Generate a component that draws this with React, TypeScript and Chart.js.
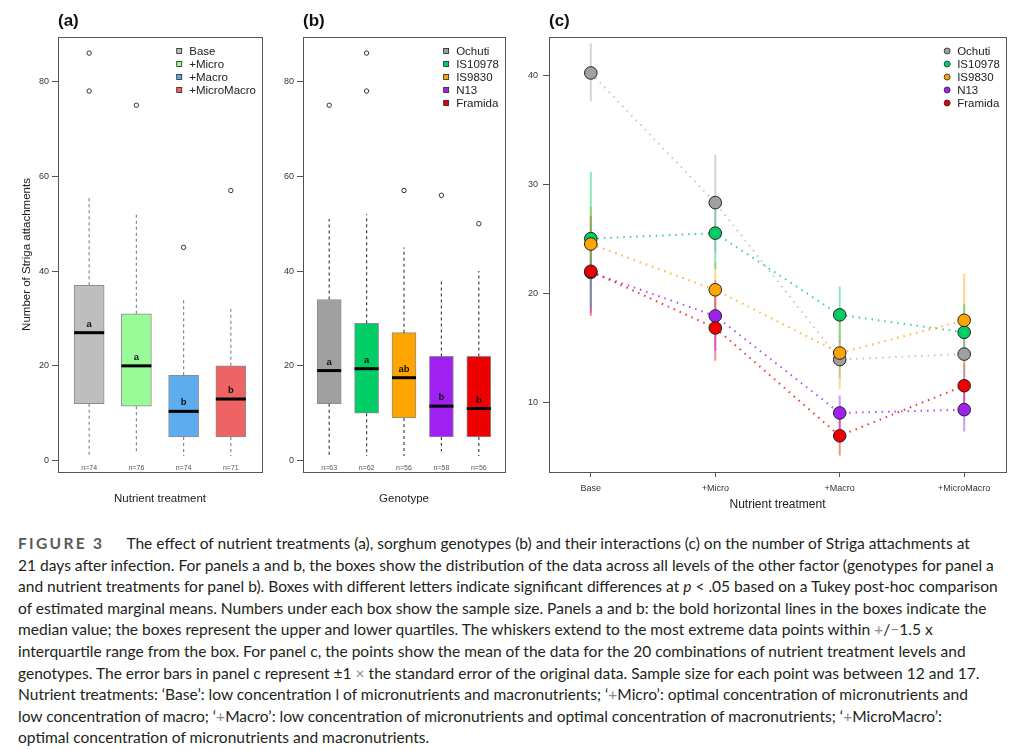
import React, { useEffect, useRef } from 'react';
import { Chart, registerables } from 'chart.js';

Chart.register(...registerables);

const FONT = '"Liberation Sans", Arial, Helvetica, sans-serif';

// ---------- categories ----------
const TREATMENTS = ['Base', '+Micro', '+Macro', '+MicroMacro'];
const GENOTYPES = ['Ochuti', 'IS10978', 'IS9830', 'N13', 'Framida'];

// ---------- panel (a): nutrient treatment boxplots ----------
const A_Q1 = [12, 11.5, 5, 5];
const A_MED = [27, 20, 10.4, 13];
const A_Q3 = [37, 31, 18, 20];
const A_LOW = [1, 2, 1, 1];
const A_HIGH = [56, 52, 34, 32];
const A_OUT = [[86, 78], [75], [45], [57]];
const A_LETTERS = ['a', 'a', 'b', 'b'];
const A_N = [74, 76, 74, 71];
const A_COLORS = ['#BEBEBE', '#98FB98', '#5CACEE', '#EE6363'];

// ---------- panel (b): genotype boxplots ----------
const B_Q1 = [12, 10, 9, 5, 5];
const B_MED = [19, 19.4, 17.5, 11.5, 11];
const B_Q3 = [34, 29, 27, 22, 22];
const B_LOW = [1, 1, 1, 2, 1];
const B_HIGH = [51, 52, 45, 38, 40];
const B_OUT = [[75], [86, 78], [57], [56], [50]];
const B_LETTERS = ['a', 'a', 'ab', 'b', 'b'];
const B_N = [63, 62, 56, 58, 56];
const GENO_COLORS = ['#A0A0A0', '#00CD66', '#FFA500', '#A020F0', '#EE0000'];

const Y_TICKS_AB = [0, 20, 40, 60, 80];
const Y_TICKS_C = [10, 20, 30, 40];

// ---------- panel (c): means and ±1 SE ends ----------
const OCHUTI_MEAN = [40.2, 28.3, 13.9, 14.4];
const OCHUTI_LO = [37.6, 23.7, 12.2, 12.3];
const OCHUTI_HI = [42.9, 32.7, 15.7, 16.1];
const IS10978_MEAN = [25.0, 25.5, 18.0, 16.4];
const IS10978_LO = [18.7, 22.2, 15.4, 13.9];
const IS10978_HI = [31.1, 27.9, 20.6, 19.0];
const IS9830_MEAN = [24.5, 20.3, 14.5, 17.5];
const IS9830_LO = [21.2, 17.8, 11.2, 13.2];
const IS9830_HI = [27.9, 22.8, 17.8, 21.8];
const N13_MEAN = [21.9, 17.9, 9.0, 9.3];
const N13_LO = [18.2, 14.7, 7.4, 7.3];
const N13_HI = [25.6, 21.2, 10.6, 11.3];
const FRAMIDA_MEAN = [22.0, 16.8, 6.9, 11.5];
const FRAMIDA_LO = [17.9, 13.8, 5.1, 9.5];
const FRAMIDA_HI = [27.1, 19.8, 8.7, 13.5];

const C_MEANS = [OCHUTI_MEAN, IS10978_MEAN, IS9830_MEAN, N13_MEAN, FRAMIDA_MEAN];
const C_LOS = [OCHUTI_LO, IS10978_LO, IS9830_LO, N13_LO, FRAMIDA_LO];
const C_HIS = [OCHUTI_HI, IS10978_HI, IS9830_HI, N13_HI, FRAMIDA_HI];

// ---------- helpers ----------
function rgba(hex: string, a: number) {
  const n = parseInt(hex.slice(1), 16);
  return `rgba(${(n >> 16) & 255},${(n >> 8) & 255},${n & 255},${a})`;
}

function framePlugin() {
  return {
    id: 'frame',
    afterDatasetsDraw(chart: any) {
      const { ctx, chartArea: a } = chart;
      ctx.save();
      ctx.strokeStyle = '#555';
      ctx.lineWidth = 1;
      ctx.strokeRect(Math.round(a.left) + 0.5, Math.round(a.top) + 0.5, Math.round(a.right - a.left), Math.round(a.bottom - a.top));
      ctx.restore();
    },
  };
}

function panelLabelPlugin(label: string) {
  return {
    id: 'panelLabel',
    afterDraw(chart: any) {
      const { ctx, chartArea: a } = chart;
      ctx.save();
      ctx.font = `bold 17px ${FONT}`;
      ctx.fillStyle = '#111';
      ctx.textAlign = 'left';
      ctx.textBaseline = 'middle';
      ctx.fillText(label, a.left, 21);
      ctx.restore();
    },
  };
}

function legendPlugin(labels: string[], colors: string[], shape: 'square' | 'circle') {
  return {
    id: 'inLegend',
    afterDraw(chart: any) {
      const { ctx, chartArea: a } = chart;
      ctx.save();
      ctx.font = `11.5px ${FONT}`;
      const maxW = Math.max(...labels.map((l) => ctx.measureText(l).width));
      const tx = a.right - 6 - maxW;
      labels.forEach((l, i) => {
        const y = a.top + 14 + 13 * i;
        const sx = tx - 10;
        ctx.fillStyle = colors[i];
        ctx.strokeStyle = '#222';
        ctx.lineWidth = 0.8;
        if (shape === 'square') {
          ctx.fillRect(sx - 2.5, y - 2.5, 5, 5);
          ctx.strokeRect(sx - 2.5, y - 2.5, 5, 5);
        } else {
          ctx.beginPath();
          ctx.arc(sx, y, 3, 0, Math.PI * 2);
          ctx.fill();
          ctx.stroke();
        }
        ctx.fillStyle = '#222';
        ctx.textAlign = 'left';
        ctx.textBaseline = 'middle';
        ctx.fillText(l, tx, y + 0.5);
      });
      ctx.restore();
    },
  };
}

function boxTextPlugin(med: number[], letters: string[], ns: number[]) {
  return {
    id: 'boxText',
    afterDatasetsDraw(chart: any) {
      const { ctx } = chart;
      const xS = chart.scales.x;
      const yS = chart.scales.y;
      ctx.save();
      ctx.textAlign = 'center';
      ctx.textBaseline = 'middle';
      ctx.font = `bold 9.5px ${FONT}`;
      ctx.fillStyle = '#111';
      letters.forEach((t, i) => {
        ctx.fillText(t, xS.getPixelForValue(i + 1), yS.getPixelForValue(med[i]) - 8.5);
      });
      ctx.font = `7px ${FONT}`;
      ctx.fillStyle = '#555';
      ns.forEach((v, i) => {
        ctx.fillText('n=' + v, xS.getPixelForValue(i + 1), yS.getPixelForValue(0) + 7);
      });
      ctx.restore();
    },
  };
}

type BoxSpec = {
  cats: string[];
  q1: number[];
  med: number[];
  q3: number[];
  low: number[];
  high: number[];
  out: number[][];
  letters: string[];
  ns: number[];
  colors: string[];
  boxPx: number;
  whiskerColor: string;
  label: string;
  xTitle: string;
  yTitle: string | null;
  yWidth: number;
  padRight: number;
};

function boxConfig(p: BoxSpec): any {
  const n = p.cats.length;
  const xs = p.cats.map((_, i) => i + 1);
  const whisk: any[] = [];
  xs.forEach((x, i) => {
    whisk.push({ x, y: p.q3[i] }, { x, y: p.high[i] }, { x, y: null }, { x, y: p.q1[i] }, { x, y: p.low[i] }, { x, y: null });
  });
  const outs: any[] = [];
  p.out.forEach((arr, i) => arr.forEach((v) => outs.push({ x: i + 1, y: v })));
  return {
    type: 'scatter',
    data: {
      datasets: [
        {
          type: 'bar',
          data: xs.map((x, i) => ({ x, y: [p.q1[i], p.q3[i]] })),
          backgroundColor: p.colors,
          borderColor: 'rgba(0,0,0,0.45)',
          borderWidth: 1,
          borderSkipped: false,
          barThickness: p.boxPx,
          order: 4,
        },
        {
          type: 'line',
          data: whisk,
          borderColor: p.whiskerColor,
          borderWidth: 1.2,
          borderDash: [3, 3],
          pointRadius: 0,
          spanGaps: false,
          order: 3,
        },
        {
          type: 'scatter',
          data: outs,
          pointStyle: 'circle',
          pointRadius: 2.2,
          borderColor: '#333',
          backgroundColor: 'rgba(255,255,255,0)',
          borderWidth: 1,
          order: 2,
        },
        {
          type: 'scatter',
          data: xs.map((x, i) => ({ x, y: p.med[i] })),
          pointStyle: 'line',
          pointRadius: p.boxPx / 2,
          borderColor: '#000',
          borderWidth: 3,
          order: 1,
        },
      ],
    },
    options: {
      responsive: false,
      animation: false,
      events: [],
      layout: { padding: { left: 0, top: 37, right: p.padRight, bottom: 0 } },
      plugins: { legend: { display: false }, tooltip: { enabled: false }, title: { display: false } },
      scales: {
        x: {
          type: 'linear',
          min: 0.5 - 0.04 * n,
          max: n + 0.5 + 0.04 * n,
          offset: false,
          grid: { display: false },
          border: { display: false },
          ticks: { display: false },
          title: {
            display: true,
            text: p.xTitle,
            color: '#222',
            font: { family: FONT, size: 11.5 },
            padding: { top: 0, bottom: 14 },
          },
          afterFit: (s: any) => {
            s.height = 48;
          },
        },
        y: {
          type: 'linear',
          min: -2.4,
          max: 89.4,
          beginAtZero: false,
          afterBuildTicks: (s: any) => {
            s.ticks = Y_TICKS_AB.map((v) => ({ value: v }));
          },
          ticks: { font: { family: FONT, size: 9 }, color: '#333', padding: 3 },
          grid: { drawOnChartArea: false, drawTicks: true, tickLength: 6, color: '#555' },
          border: { display: false },
          title: p.yTitle
            ? {
                display: true,
                text: p.yTitle,
                color: '#222',
                font: { family: FONT, size: 11.5 },
                padding: { top: 20, bottom: 0 },
              }
            : { display: false },
          afterFit: (s: any) => {
            s.width = p.yWidth;
          },
        },
      },
    },
    plugins: [framePlugin(), panelLabelPlugin(p.label), legendPlugin(p.cats, p.colors, 'square'), boxTextPlugin(p.med, p.letters, p.ns)],
  };
}

function interactionConfig(): any {
  const xs = TREATMENTS.map((_, i) => i + 1);
  const datasets: any[] = [];
  GENOTYPES.forEach((g, gi) => {
    const pts: any[] = [];
    xs.forEach((x, i) => {
      pts.push({ x, y: C_LOS[gi][i] }, { x, y: C_HIS[gi][i] }, { x, y: null });
    });
    datasets.push({
      type: 'line',
      label: g + ' SE',
      data: pts,
      borderColor: rgba(GENO_COLORS[gi], 0.45),
      borderWidth: 2,
      pointRadius: 0,
      spanGaps: false,
      order: 100 + gi,
    });
  });
  GENOTYPES.forEach((g, gi) => {
    datasets.push({
      type: 'line',
      label: g,
      data: xs.map((x, i) => ({ x, y: C_MEANS[gi][i] })),
      borderColor: rgba(GENO_COLORS[gi], gi === 0 ? 0.6 : 0.8),
      borderWidth: 2,
      borderDash: [1.5, 5],
      pointRadius: 6.3,
      pointBackgroundColor: GENO_COLORS[gi],
      pointBorderColor: '#222',
      pointBorderWidth: 1,
      order: 10 - gi,
    });
  });
  return {
    type: 'scatter',
    data: { datasets },
    options: {
      responsive: false,
      animation: false,
      events: [],
      layout: { padding: { left: 0, top: 37, right: 18, bottom: 0 } },
      plugins: { legend: { display: false }, tooltip: { enabled: false }, title: { display: false } },
      scales: {
        x: {
          type: 'linear',
          min: 0.664,
          max: 4.336,
          offset: false,
          afterBuildTicks: (s: any) => {
            s.ticks = xs.map((v) => ({ value: v }));
          },
          ticks: {
            callback: (_v: any, i: number) => TREATMENTS[i],
            font: { family: FONT, size: 9 },
            color: '#333',
            padding: 6,
            maxRotation: 0,
            autoSkip: false,
          },
          grid: { drawOnChartArea: false, drawTicks: true, tickLength: 5, color: '#555' },
          border: { display: false },
          title: {
            display: true,
            text: 'Nutrient treatment',
            color: '#222',
            font: { family: FONT, size: 12 },
            padding: { top: 0, bottom: 8 },
          },
          afterFit: (s: any) => {
            s.height = 48;
          },
        },
        y: {
          type: 'linear',
          min: 3.58,
          max: 43.5,
          beginAtZero: false,
          afterBuildTicks: (s: any) => {
            s.ticks = Y_TICKS_C.map((v) => ({ value: v }));
          },
          ticks: { font: { family: FONT, size: 9 }, color: '#333', padding: 5 },
          grid: { drawOnChartArea: false, drawTicks: true, tickLength: 6, color: '#555' },
          border: { display: false },
          afterFit: (s: any) => {
            s.width = 29;
          },
        },
      },
    },
    plugins: [framePlugin(), panelLabelPlugin('(c)'), legendPlugin(GENOTYPES, GENO_COLORS, 'circle')],
  };
}

function ChartBox({ left, top, width, height, make }: { left: number; top: number; width: number; height: number; make: () => any }) {
  const ref = useRef<HTMLCanvasElement>(null);
  useEffect(() => {
    const chart = new Chart(ref.current as HTMLCanvasElement, make());
    return () => chart.destroy();
  }, []);
  return (
    <div style={{ position: 'absolute', left, top, width, height }}>
      <canvas ref={ref} width={width} height={height} style={{ width, height, display: 'block' }} />
    </div>
  );
}

const G = { color: '#8a8a8a' };

export default function App() {
  return (
    <div style={{ position: 'absolute', left: 0, top: 0, width: 1024, height: 750, background: '#fff', overflow: 'hidden' }}>
      <ChartBox
        left={0}
        top={0}
        width={280}
        height={520}
        make={() =>
          boxConfig({
            cats: TREATMENTS,
            q1: A_Q1,
            med: A_MED,
            q3: A_Q3,
            low: A_LOW,
            high: A_HIGH,
            out: A_OUT,
            letters: A_LETTERS,
            ns: A_N,
            colors: A_COLORS,
            boxPx: 30,
            whiskerColor: '#888',
            label: '(a)',
            xTitle: 'Nutrient treatment',
            yTitle: 'Number of Striga attachments',
            yWidth: 58,
            padRight: 9,
          })
        }
      />
      <ChartBox
        left={280}
        top={0}
        width={240}
        height={520}
        make={() =>
          boxConfig({
            cats: GENOTYPES,
            q1: B_Q1,
            med: B_MED,
            q3: B_Q3,
            low: B_LOW,
            high: B_HIGH,
            out: B_OUT,
            letters: B_LETTERS,
            ns: B_N,
            colors: GENO_COLORS,
            boxPx: 24,
            whiskerColor: '#444',
            label: '(b)',
            xTitle: 'Genotype',
            yTitle: null,
            yWidth: 23,
            padRight: 4,
          })
        }
      />
      <ChartBox left={520} top={0} width={504} height={520} make={interactionConfig} />
      <div
        style={{
          position: 'absolute',
          left: 18,
          top: 533,
          fontFamily: 'Lato, "Open Sans", sans-serif',
          fontSize: 15.55,
          lineHeight: '21.6px',
          color: '#231f20',
          whiteSpace: 'nowrap',
        }}
      >
        <div>
          <span style={{ fontWeight: 700, letterSpacing: 2.3, color: '#58595b', marginRight: 22 }}>FIGURE 3</span>
          The effect of nutrient treatments (a), sorghum genotypes (b) and their interactions (c) on the number of Striga attachments at
        </div>
        <div>21 days after infection. For panels a and b, the boxes show the distribution of the data across all levels of the other factor (genotypes for panel a</div>
        <div>
          and nutrient treatments for panel b). Boxes with different letters indicate significant differences at <i>p</i> &lt; .05 based on a Tukey post-hoc comparison
        </div>
        <div>of estimated marginal means. Numbers under each box show the sample size. Panels a and b: the bold horizontal lines in the boxes indicate the</div>
        <div>
          median value; the boxes represent the upper and lower quartiles. The whiskers extend to the most extreme data points within <span style={G}>+</span>/<span style={G}>−</span>1.5 x
        </div>
        <div>interquartile range from the box. For panel c, the points show the mean of the data for the 20 combinations of nutrient treatment levels and</div>
        <div>
          genotypes. The error bars in panel c represent ±1 <span style={G}>×</span> the standard error of the original data. Sample size for each point was between 12 and 17.
        </div>
        <div>
          Nutrient treatments: ‘Base’: low concentration l of micronutrients and macronutrients; ‘<span style={G}>+</span>Micro’: optimal concentration of micronutrients and
        </div>
        <div>
          low concentration of macro; ‘<span style={G}>+</span>Macro’: low concentration of micronutrients and optimal concentration of macronutrients; ‘<span style={G}>+</span>MicroMacro’:
        </div>
        <div>optimal concentration of micronutrients and macronutrients.</div>
      </div>
    </div>
  );
}
